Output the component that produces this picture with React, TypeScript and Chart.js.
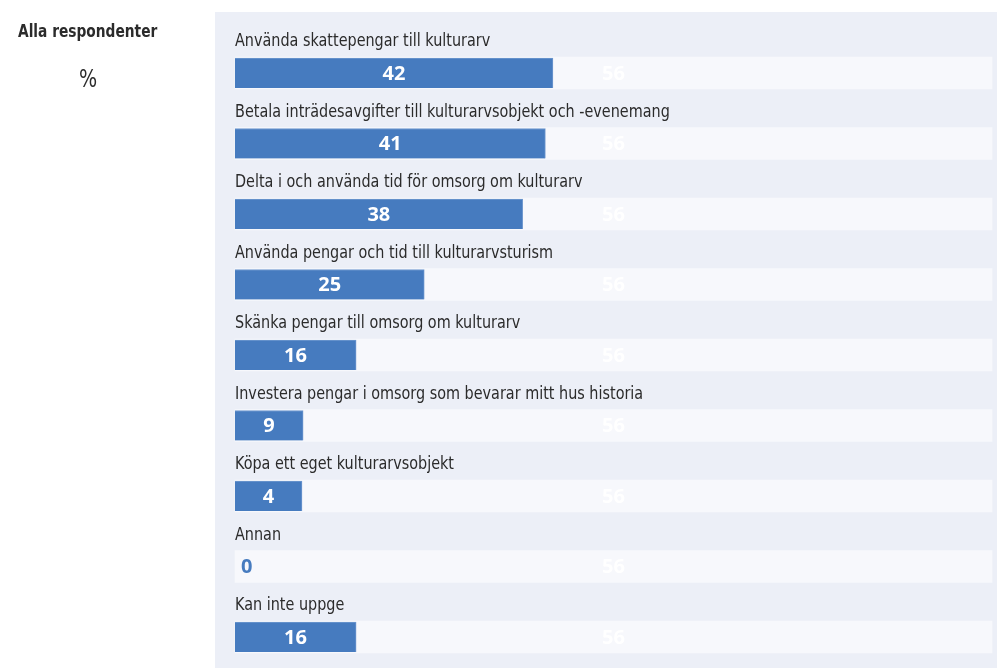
import React, { useEffect, useRef } from "react";
import { Chart, registerables } from "chart.js";

Chart.register(...registerables);

const categories = [
  "Använda skattepengar till kulturarv",
  "Betala inträdesavgifter till kulturarvsobjekt och -evenemang",
  "Delta i och använda tid för omsorg om kulturarv",
  "Använda pengar och tid till kulturarvsturism",
  "Skänka pengar till omsorg om kulturarv",
  "Investera pengar i omsorg som bevarar mitt hus historia",
  "Köpa ett eget kulturarvsobjekt",
  "Annan",
  "Kan inte uppge",
];
const values = [42, 41, 38, 25, 16, 9, 4, 0, 16];
const trackTotals = [100, 100, 100, 100, 100, 100, 100, 100, 100];
const trackLabels = [56, 56, 56, 56, 56, 56, 56, 56, 56];

const title = "Alla respondenter";
const unit = "%";

const BLUE = "#467bbf";
const TRACK = "#f7f8fc";
const PANEL = "#eceff7";
const TEXT = "#2b2b2b";
const NARROW = '"DejaVu Sans Condensed", "DejaVu Sans", sans-serif';
const VALUE_FONT = '"Open Sans", sans-serif';

function narrowText(ctx: any, text: string, x: number, y: number, sx: number) {
  ctx.save();
  ctx.translate(x, y);
  ctx.scale(sx, 1);
  ctx.fillText(text, 0, 0);
  ctx.restore();
}

export default function App() {
  const ref = useRef<HTMLCanvasElement>(null);

  useEffect(() => {
    if (!ref.current) return;

    const panelPlugin = {
      id: "panel",
      beforeDraw(chart: any) {
        const ctx = chart.ctx;
        ctx.save();
        ctx.fillStyle = "#ffffff";
        ctx.fillRect(0, 0, chart.width, chart.height);
        ctx.fillStyle = PANEL;
        ctx.fillRect(215, 12, chart.width - 215, chart.height - 12);
        ctx.fillStyle = TEXT;
        ctx.font = `bold 18px ${NARROW}`;
        ctx.textAlign = "left";
        ctx.textBaseline = "alphabetic";
        narrowText(ctx, title, 18, 37, 0.85);
        ctx.font = `25px ${NARROW}`;
        ctx.textAlign = "center";
        narrowText(ctx, unit, 88, 87, 0.85);
        ctx.restore();
      },
    };

    const labelPlugin = {
      id: "rowLabels",
      afterDatasetsDraw(chart: any) {
        const ctx = chart.ctx;
        const barMeta = chart.getDatasetMeta(0);
        const trackMeta = chart.getDatasetMeta(1);
        const area = chart.chartArea;
        ctx.save();
        trackMeta.data.forEach((el: any, i: number) => {
          const p = el.getProps(["x", "y", "base"], true);
          ctx.font = `18px ${NARROW}`;
          ctx.fillStyle = TEXT;
          ctx.textAlign = "left";
          ctx.textBaseline = "alphabetic";
          narrowText(ctx, categories[i], area.left, p.y - 27, 0.889);

          ctx.font = `bold 20px ${VALUE_FONT}`;
          ctx.fillStyle = "#ffffff";
          ctx.textAlign = "center";
          ctx.textBaseline = "middle";
          ctx.fillText(String(trackLabels[i]), (p.base + p.x) / 2, p.y + 1);

          const v = values[i];
          if (v === 0) {
            ctx.fillStyle = BLUE;
            ctx.textAlign = "left";
            ctx.fillText(String(v), area.left + 6, p.y + 1);
          } else {
            const b = barMeta.data[i].getProps(["x", "base"], true);
            ctx.fillStyle = "#ffffff";
            ctx.textAlign = "center";
            ctx.fillText(String(v), (b.base + b.x) / 2, p.y + 1);
          }
        });
        ctx.restore();
      },
    };

    const chart = new Chart(ref.current, {
      type: "bar",
      data: {
        labels: categories,
        datasets: [
          {
            label: "Andel",
            data: values.map((v) => (v === 0 ? null : v)),
            backgroundColor: BLUE,
            borderColor: "#6f98cf",
            borderWidth: { top: 1, right: 1, bottom: 0, left: 0 } as any,
            barThickness: 30,
            minBarLength: 67,
            grouped: false,
            clip: false as any,
          },
          {
            label: "Total",
            data: trackTotals,
            backgroundColor: TRACK,
            barThickness: 32,
            grouped: false,
            clip: false as any,
          },
        ],
      },
      options: {
        indexAxis: "y",
        animation: false,
        responsive: false,
        maintainAspectRatio: false,
        layout: { padding: { left: 235, right: 5, top: 73, bottom: 31 } },
        scales: {
          x: { min: 0, max: 100, display: false },
          y: { type: "category", offset: false, display: false },
        },
        plugins: {
          legend: { display: false },
          tooltip: { enabled: false },
        },
      },
      plugins: [panelPlugin, labelPlugin],
    });
    return () => chart.destroy();
  }, []);

  return (
    <div style={{ position: "fixed", left: 0, top: 0, width: 997, height: 668, background: "#fff" }}>
      <canvas ref={ref} width={997} height={668} style={{ display: "block", width: 997, height: 668 }} />
    </div>
  );
}
